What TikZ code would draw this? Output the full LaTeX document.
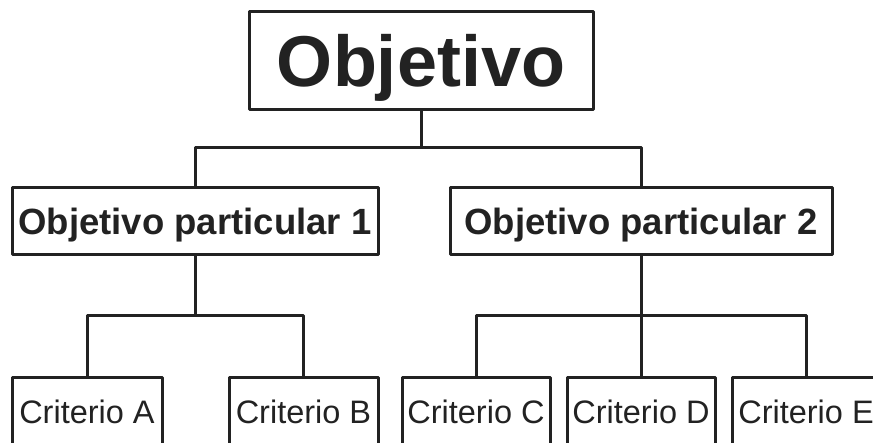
\documentclass[tikz,border=0pt]{standalone}
\usepackage{fontspec}
\setmainfont{Liberation Sans}
\usepackage{xcolor}
\definecolor{ink}{HTML}{222222}

\tikzset{
  caja/.style={draw=ink,line width=3,inner sep=0,text=ink,line join=round},
  raiz/.style={caja,minimum width=344,minimum height=98,font=\fontsize{72}{72}\selectfont\bfseries,text height=52,text depth=0},
  parcial/.style={caja,minimum height=67,font=\fontsize{36.5}{36.5}\selectfont\bfseries,text height=26,text depth=0},
  criterio/.style={caja,minimum width=148,minimum height=68,font=\fontsize{32.5}{32.5}\selectfont,text height=23,text depth=0}
}

\begin{document}
\begin{tikzpicture}[x=1pt,y=-1pt,line width=3,draw=ink]
			\useasboundingbox (0,0) rectangle (873,443);
			\clip (0,0) rectangle (873,443);
			% niveles
			\node[raiz] (obj) at (421,61) {Objetivo};
			\node[parcial,minimum width=366] (op1) at (195,221.5) {Objetivo particular 1};
			\node[parcial,minimum width=382] (op2) at (641,221.5) {Objetivo particular 2};
			\node[criterio,minimum width=150] (ca) at (87,412) {Criterio A};
			\node[criterio,minimum width=149] (cb) at (303.5,412) {Criterio B};
			\node[criterio] (cc) at (476,412) {Criterio C};
			\node[criterio] (cd) at (641,412) {Criterio D};
			\node[criterio] (ce) at (806,412) {Criterio E};
			% uniones
			\coordinate (j0) at (421,148);
			\coordinate (j1) at (195,316);
			\coordinate (j2) at (641,316);
			\draw[ink,line join=round] (obj.south)--(j0);
			\draw[ink,line join=round] (op1.north)|-(j0)-|(op2.north);
			\draw[ink,line join=round] (op1.south)--(j1);
			\draw[ink,line join=round] (ca.north)|-(j1)-|(cb.north);
			\draw[ink,line join=round] (op2.south)--(j2)--(cd.north);
			\draw[ink,line join=round] (cc.north)|-(j2)-|(ce.north);
		\end{tikzpicture}
\end{document}
